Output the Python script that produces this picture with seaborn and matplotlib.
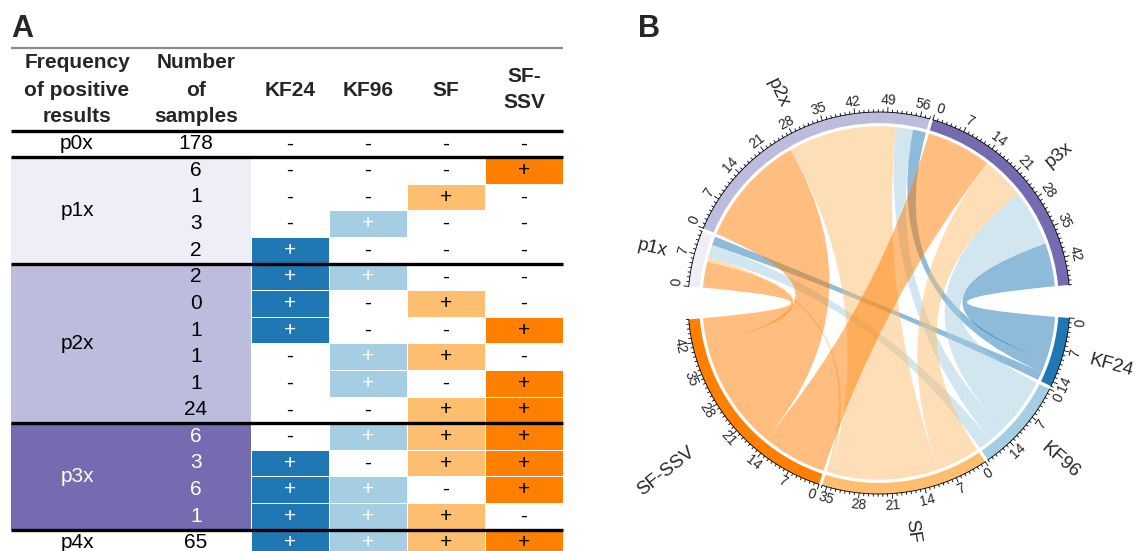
import numpy as np
import pandas as pd
import matplotlib
matplotlib.use("Agg")
import matplotlib.pyplot as plt
from matplotlib.path import Path
from matplotlib.patches import PathPatch, Rectangle, Wedge
from matplotlib.colors import ListedColormap
import seaborn as sns

# ---------------- data ----------------
assays = ["KF24", "KF96", "SF", "SF-SSV"]
row_group = ["p0x"] + ["p1x"] * 4 + ["p2x"] * 6 + ["p3x"] * 4 + ["p4x"]
n_samples = [178, 6, 1, 3, 2, 2, 0, 1, 1, 1, 24, 6, 3, 6, 1, 65]
kf24 = [0, 0, 0, 0, 1, 1, 1, 1, 0, 0, 0, 0, 1, 1, 1, 1]
kf96 = [0, 0, 0, 1, 0, 1, 0, 0, 1, 1, 0, 1, 0, 1, 1, 1]
sf = [0, 0, 1, 0, 0, 0, 1, 0, 1, 0, 1, 1, 1, 0, 1, 1]
sfssv = [0, 1, 0, 0, 0, 0, 0, 1, 0, 1, 1, 1, 1, 1, 0, 1]
group_order = ["p0x", "p1x", "p2x", "p3x", "p4x"]
chord_groups = ["p1x", "p2x", "p3x"]
header_first = ["Frequency", "of positive", "results"]
header_second = ["Number", "of", "samples"]
header_assays = ["KF24", "KF96", "SF", "SF-\nSSV"]
tick_step = 7

# ---------------- styles ----------------
assay_colors = {"KF24": "#1F78B4", "KF96": "#A6CEE3", "SF": "#FDBF6F", "SF-SSV": "#FF7F00"}
group_colors = {"p0x": "white", "p1x": "#EFEDF5", "p2x": "#BCBDDC", "p3x": "#756BB1", "p4x": "white"}
white_plus = {"KF24", "KF96"}

sns.set_theme(style="white")
plt.rcParams["font.family"] = ["Liberation Sans", "DejaVu Sans"]

W, H = 1145, 551
fig = plt.figure(figsize=(W / 100, H / 100), dpi=100)

# ---------------- Panel A: table ----------------
t_left, t_right, cell_left = 11, 563, 251
top_line_y = 47.7
table_top = 130.5
row_h = 26.6
n_rows = len(n_samples)
table_bottom = table_top + n_rows * row_h
col_w = (t_right - cell_left) / len(assays)

df = pd.DataFrame({"KF24": kf24, "KF96": kf96, "SF": sf, "SF-SSV": sfssv})
codes = df.values * np.arange(1, len(assays) + 1)
annot = np.where(df.values == 1, "+", "-")

ax_hm = fig.add_axes([cell_left / W, 1 - table_bottom / H,
                      (t_right - cell_left) / W, (table_bottom - table_top) / H])
cmap = ListedColormap(["white"] + [assay_colors[a] for a in assays])
sns.heatmap(codes, ax=ax_hm, cmap=cmap, vmin=-0.5, vmax=len(assays) + 0.5, cbar=False,
            annot=annot, fmt="", linewidths=0.5, linecolor="white",
            annot_kws={"fontsize": 15}, xticklabels=False, yticklabels=False)
for t in ax_hm.texts:
    x, y = t.get_position()
    j, i = int(x), int(y)
    if df.values[i, j] == 1 and assays[j] in white_plus:
        t.set_color("white")
    else:
        t.set_color("black")
ax_hm.set_xlabel("")
ax_hm.set_ylabel("")

ax_t = fig.add_axes([0, 0, 1, 1], zorder=5)
ax_t.set_xlim(0, W)
ax_t.set_ylim(H, 0)
ax_t.set_axis_off()

x_first, x_second = 77, 196
fs = 15
for g in group_order:
    idx = [i for i, rg in enumerate(row_group) if rg == g]
    y0 = table_top + idx[0] * row_h
    y1 = table_top + (idx[-1] + 1) * row_h
    ax_t.add_patch(Rectangle((t_left, y0), cell_left - t_left, y1 - y0,
                             facecolor=group_colors[g], edgecolor="none", zorder=1))
    tc = "white" if g == "p3x" else "black"
    ax_t.text(x_first, (y0 + y1) / 2, g, ha="center", va="center", fontsize=fs, color=tc, zorder=3)
    for i in idx:
        ax_t.text(x_second, table_top + (i + 0.5) * row_h, str(n_samples[i]),
                  ha="center", va="center", fontsize=fs, color=tc, zorder=3)
    ax_t.plot([t_left, t_right], [y0, y0], color="black", lw=2.4, zorder=4,
              solid_capstyle="butt")

ax_t.plot([t_left, t_right], [top_line_y, top_line_y], color="#8C8C8C", lw=1.6,
          solid_capstyle="butt")
for k, (a, b) in enumerate(zip(header_first, header_second)):
    yy = 63 + k * 27
    ax_t.text(x_first, yy, a, ha="center", va="center", fontsize=fs, fontweight="bold")
    ax_t.text(x_second, yy, b, ha="center", va="center", fontsize=fs, fontweight="bold")
for j, lab in enumerate(header_assays):
    xc = cell_left + (j + 0.5) * col_w
    lines = lab.split("\n")
    n = len(lines)
    for k, ln in enumerate(lines):
        yy = 90 + (k - (n - 1) / 2) * 26
        ax_t.text(xc, yy, ln, ha="center", va="center", fontsize=fs, fontweight="bold")

fig.text(11 / W, 1 - 37 / H, "A", fontsize=22, fontweight="bold", ha="left", va="baseline")
fig.text(638 / W, 1 - 37 / H, "B", fontsize=22, fontweight="bold", ha="left", va="baseline")

# ---------------- Panel B: chord diagram ----------------
links = {g: {a: int(sum(n for n, rg, v in zip(n_samples, row_group, df[a]) if rg == g and v))
             for a in assays} for g in chord_groups}
sizes = {g: sum(links[g].values()) for g in chord_groups}
sizes.update({a: sum(links[g][a] for g in chord_groups) for a in assays})
sector_names = chord_groups + assays
sector_colors = dict(group_colors)
sector_colors.update(assay_colors)

cx, cy, R_px, half = 879, 303, 191, 300
ax_c = fig.add_axes([(cx - half) / W, 1 - (cy + half) / H, 2 * half / W, 2 * half / H], zorder=2)
lim = half / R_px
ax_c.set_xlim(-lim, lim)
ax_c.set_ylim(-lim, lim)
ax_c.set_axis_off()

u = 1.42
g_small = 1.0
total_units = sum(sizes.values())
G = (360 - total_units * u - 5 * g_small) / 2
theta = 175.0
s_start, s_end = {}, {}
for name in sector_names:
    s_start[name] = theta
    theta -= sizes[name] * u
    s_end[name] = theta
    theta -= G if name in (chord_groups[-1], assays[-1]) else g_small

r_out, r_in, r_link = 1.0, 0.942, 0.925
tick_fs = 10
r_tlab = 1.062

def arc(t1, t2, r, n=60):
    ts = np.radians(np.linspace(t1, t2, n))
    return np.column_stack([r * np.cos(ts), r * np.sin(ts)])

seg = {}
for g in chord_groups:
    pos = s_start[g]
    for a in assays[::-1]:
        w = links[g][a]
        seg[(g, a, "g")] = (pos, pos - w * u)
        pos -= w * u
for a in assays:
    pos = s_start[a]
    for g in chord_groups[::-1]:
        w = links[g][a]
        seg[(g, a, "a")] = (pos, pos - w * u)
        pos -= w * u

for g in chord_groups:
    for a in assays[::-1]:
        if links[g][a] == 0:
            continue
        a1, a2 = seg[(g, a, "g")]
        b1, b2 = seg[(g, a, "a")]
        A = arc(a1, a2, r_link)
        B = arc(b1, b2, r_link)
        verts = list(A) + [(0, 0), B[0]] + list(B[1:]) + [(0, 0), A[0], A[0]]
        cds = ([Path.MOVETO] + [Path.LINETO] * (len(A) - 1) + [Path.CURVE3, Path.CURVE3]
               + [Path.LINETO] * (len(B) - 1) + [Path.CURVE3, Path.CURVE3, Path.CLOSEPOLY])
        ax_c.add_patch(PathPatch(Path(verts, cds), facecolor=assay_colors[a], alpha=0.5,
                                 edgecolor="none", zorder=2))

label_r = {"SF-SSV": 1.245}
for name in sector_names:
    t1, t2 = s_start[name], s_end[name]
    ax_c.add_patch(Wedge((0, 0), r_out, t2, t1, width=r_out - r_in,
                         facecolor=sector_colors[name], edgecolor="none", zorder=3))
    pts = arc(t1, t2, r_out)
    ax_c.plot(pts[:, 0], pts[:, 1], color="black", lw=0.6, zorder=4)
    for v in range(0, sizes[name] + 1):
        th = t1 - v * u
        rad = np.radians(th)
        L = 0.026 if v % tick_step == 0 else 0.013
        ax_c.plot([r_out * np.cos(rad), (r_out + L) * np.cos(rad)],
                  [r_out * np.sin(rad), (r_out + L) * np.sin(rad)],
                  color="black", lw=0.6, zorder=4)
        if v % tick_step == 0:
            thn = (th + 180) % 360 - 180
            top = thn > 0
            rot = thn - 90 if top else thn + 90
            lab = str(v)
            half_w_deg = np.degrees(len(lab) * 0.556 * tick_fs * 100 / 72 / 2 / (r_tlab * R_px))
            ha = "center"
            pos_th = th
            if v == 0:
                ha = "left" if top else "right"
            elif (sizes[name] - v) * u < half_w_deg:
                pos_th = s_end[name]
                ha = "right" if top else "left"
            prad = np.radians(pos_th)
            ax_c.text(r_tlab * np.cos(prad), r_tlab * np.sin(prad), lab, rotation=rot,
                      rotation_mode="anchor", ha=ha, va="center", fontsize=tick_fs)
    mid = (t1 + t2) / 2
    midn = (mid + 180) % 360 - 180
    rl = label_r.get(name, 1.142)
    rad = np.radians(mid)
    if -90 <= midn <= 90:
        rot, ha = midn, "left"
    else:
        rot, ha = midn - 180 if midn > 0 else midn + 180, "right"
    ax_c.text(rl * np.cos(rad), rl * np.sin(rad), name, rotation=rot, rotation_mode="anchor",
              ha=ha, va="center", fontsize=13.5)

fig.savefig("out.png", dpi=100)
